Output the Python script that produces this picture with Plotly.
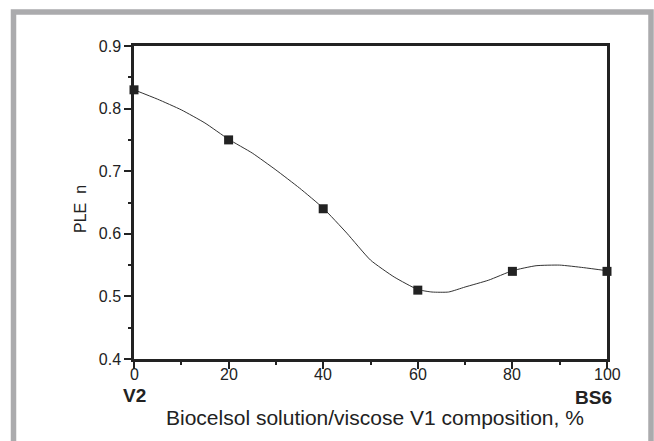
import plotly.graph_objects as go

# measured data points
comp = [0, 20, 40, 60, 80, 100]
ple_n = [0.83, 0.75, 0.64, 0.51, 0.54, 0.54]

# fitted curve
curve_x = [0, 5, 10, 15, 20, 25, 30, 35, 40, 45, 50, 55, 60, 63, 66.5, 70, 75, 80, 85, 90, 95, 100]
curve_y = [0.83, 0.815, 0.798, 0.777, 0.751, 0.729, 0.702, 0.673, 0.641, 0.601, 0.558, 0.531,
           0.511, 0.507, 0.507, 0.515, 0.526, 0.541, 0.549, 0.550, 0.546, 0.541]

x_ticks = [0, 20, 40, 60, 80, 100]
y_ticks = [0.4, 0.5, 0.6, 0.7, 0.8, 0.9]

W, H = 654, 441
L, R, T, B = 134, 47, 46, 82
pw, ph = W - L - R, H - T - B

def px(x):
    return (x - L) / pw

def py(y):
    return (H - B - y) / ph

font = "Liberation Sans, Arial, sans-serif"
ink = "#222222"

fig = go.Figure()
fig.add_trace(go.Scatter(x=curve_x, y=curve_y, mode="lines",
                         line=dict(color="#333333", width=1, shape="spline", smoothing=0.5),
                         hoverinfo="skip", showlegend=False))
fig.add_trace(go.Scatter(x=comp, y=ple_n, mode="markers",
                         marker=dict(symbol="square", size=9, color=ink, line=dict(width=0)),
                         showlegend=False, cliponaxis=False))

axis_common = dict(showline=True, linewidth=2.5, linecolor=ink, mirror=True,
                   ticks="outside", ticklen=7, tickwidth=1.5, tickcolor=ink,
                   showgrid=False, zeroline=False,
                   tickfont=dict(family=font, size=16, color=ink))

fig.update_xaxes(range=[0, 100], tickvals=x_ticks, showticklabels=False,
                 minor=dict(dtick=10, ticks="outside", ticklen=3, tickwidth=1.5, tickcolor=ink, showgrid=False),
                 **axis_common)
fig.update_yaxes(range=[0.4, 0.9], tickvals=y_ticks, tickformat=".1f",
                 minor=dict(dtick=0.05, ticks="outside", ticklen=3, tickwidth=1.5, tickcolor=ink, showgrid=False),
                 **axis_common)

annotations = [
    dict(text=str(v), x=v, xref="x", y=py(374), yref="paper",
         font=dict(family=font, size=16, color=ink))
    for v in x_ticks
]
annotations += [
    dict(text="PLE  n", x=px(80), y=py(209), textangle=-90,
         font=dict(family=font, size=16, color=ink)),
    dict(text="Biocelsol solution/viscose V1 composition, %", x=px(375), y=py(418),
         font=dict(family=font, size=21, color=ink)),
    dict(text="<b>V2</b>", x=px(134), y=py(395),
         font=dict(family=font, size=19, color=ink)),
    dict(text="<b>BS6</b>", x=px(593), y=py(397),
         font=dict(family=font, size=19, color=ink)),
]
for a in annotations:
    a.setdefault("xref", "paper")
    a.setdefault("yref", "paper")
    a.update(showarrow=False, xanchor="center", yanchor="middle")

shapes = [dict(type="rect", xref="paper", yref="paper",
               x0=px(13.5), x1=px(651), y0=py(12), y1=py(460),
               line=dict(color="#ababad", width=5.5), fillcolor="rgba(0,0,0,0)", layer="below")]

fig.update_layout(width=W, height=H, margin=dict(l=L, r=R, t=T, b=B),
                  paper_bgcolor="white", plot_bgcolor="white",
                  annotations=annotations, shapes=shapes)

fig.write_html("out.html")
